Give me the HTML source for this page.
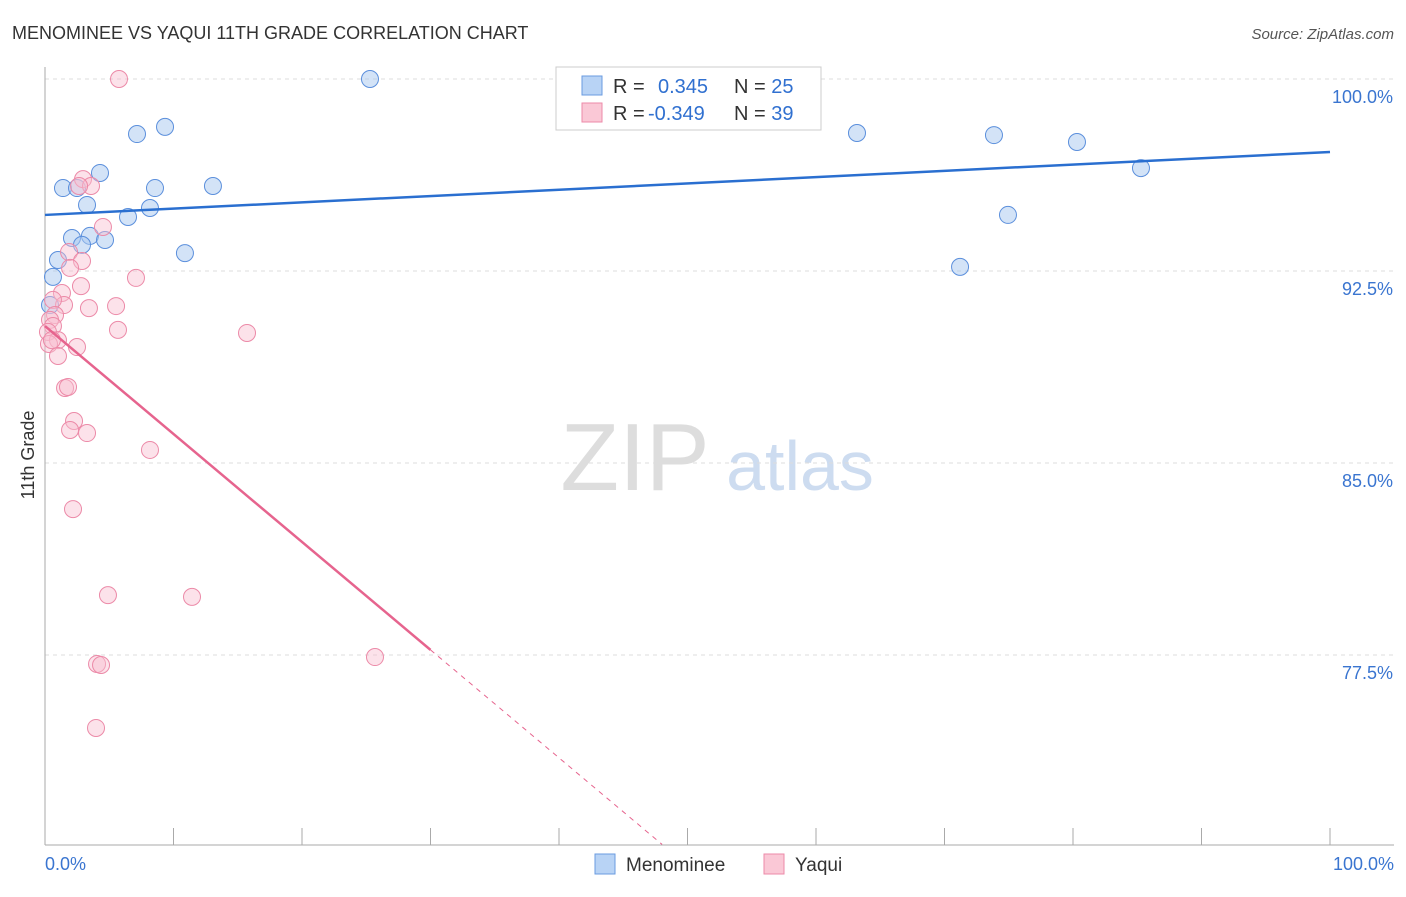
<!DOCTYPE html>
<html><head><meta charset="utf-8"><style>
body{margin:0;background:#fff;font-family:"Liberation Sans",sans-serif;}
svg text{font-family:"Liberation Sans",sans-serif;}
</style></head><body>
<svg id="c" width="1406" height="892" viewBox="0 0 1406 892">
<text x="12" y="39" font-size="18" fill="#333">MENOMINEE VS YAQUI 11TH GRADE CORRELATION CHART</text>
<text x="1394" y="39" font-size="15" fill="#555" text-anchor="end" font-style="italic">Source: ZipAtlas.com</text>
<g><text x="635" y="490" font-size="96" fill="#ddd" font-family="Liberation Serif" text-anchor="middle">ZIP</text><text x="800" y="490" font-size="70" fill="#cddcf0" text-anchor="middle">atlas</text></g>
<g id="grid"></g><g id="axes"></g><g id="pts"></g><g id="lines"></g>
<g>
<rect x="556" y="67" width="265" height="63" fill="#fff" stroke="#ccc"/>
<rect x="582" y="76" width="20" height="19" fill="#b8d3f5" stroke="#6a9be0"/>
<rect x="582" y="103" width="20" height="19" fill="#fac8d6" stroke="#ec8aa8"/>
<text x="613" y="93" font-size="20" fill="#333">R = <tspan fill="#3070d0" x="658">0.345</tspan><tspan x="734">N = </tspan><tspan fill="#3070d0">25</tspan></text>
<text x="613" y="120" font-size="20" fill="#333">R = <tspan fill="#3070d0" x="648">-0.349</tspan><tspan x="734">N = </tspan><tspan fill="#3070d0">39</tspan></text>
</g>
<g>
<rect x="595" y="854" width="20" height="20" fill="#b8d3f5" stroke="#6a9be0"/>
<text x="626" y="871" font-size="19" fill="#333">Menominee</text>
<rect x="764" y="854" width="20" height="20" fill="#fac8d6" stroke="#ec8aa8"/>
<text x="795" y="871" font-size="19" fill="#333">Yaqui</text>
</g>
<text transform="translate(34,455) rotate(-90)" font-size="18" fill="#333" text-anchor="middle">11th Grade</text>
</svg>
<script>
const blueX=[25.29,9.34,7.16,4.28,1.40,2.49,8.56,13.07,3.27,8.17,6.46,2.10,3.50,4.67,2.88,1.01,10.89,0.62,0.39,63.19,73.85,80.31,85.29,74.94,71.21];
const blueY=[100.0,98.13,97.85,96.33,95.74,95.74,95.74,95.82,95.08,94.96,94.61,93.79,93.87,93.71,93.52,92.93,93.20,92.27,91.17,97.89,97.81,97.54,96.52,94.69,92.66];
const pinkX=[5.76,2.96,3.58,2.65,4.51,1.87,2.88,1.95,7.08,2.80,1.32,1.48,3.42,5.53,0.62,0.78,0.39,0.62,5.68,15.72,0.23,1.01,0.31,2.49,1.01,1.56,1.79,2.26,1.95,3.27,8.17,2.18,4.90,11.44,25.68,4.05,4.36,3.97,0.54];
const pinkY=[100.0,96.09,95.82,95.82,94.22,93.24,92.89,92.62,92.23,91.91,91.64,91.17,91.05,91.13,91.37,90.78,90.59,90.35,90.20,90.08,90.12,89.80,89.65,89.53,89.18,87.93,87.97,86.64,86.29,86.17,85.51,83.20,79.84,79.77,77.42,77.15,77.11,74.65,89.80];
const yTicks=[100,92.5,85,77.5];
const yTickLabels=["100.0%","92.5%","85.0%","77.5%"];
const blueTrend=[94.69,97.15];
const pinkTrend=[90.35,77.70];
const X=v=>45+v*12.85, Y=v=>79+(100-v)*25.6;
const NS="http://www.w3.org/2000/svg";
function mk(p,t,a){const e=document.createElementNS(NS,t);for(const k in a)e.setAttribute(k,a[k]);document.getElementById(p).appendChild(e);return e;}
yTicks.forEach((t,i)=>{
 const g=mk('grid','line',{x1:45,x2:1394,y1:Y(t),y2:Y(t),stroke:'#ddd','stroke-dasharray':'4,4'});
 
 
 const l=mk('grid','text',{x:1393,y:Y(t)+24,'font-size':18,fill:'#3a75d0','text-anchor':'end'});
 l.textContent=yTickLabels[i];
 
 
});
const ax=mk('axes','line',{x1:45,x2:45,y1:67,y2:845,stroke:'#aaa'});


const bx=mk('axes','line',{x1:45,x2:1394,y1:845,y2:845,stroke:'#aaa'});


for(let i=0;i<=10;i++){const t=mk('axes','line',{x1:X(i*10),x2:X(i*10),y1:828,y2:845,stroke:'#aaa'});
 
 }
[[0,"0.0%","start",45],[100,"100.0%","end",1394]].forEach(a=>{const t=mk('axes','text',{x:a[3],y:870,'font-size':18,fill:'#3a75d0','text-anchor':a[2]});t.textContent=a[1];
 
 });
blueX.forEach((x,i)=>{const c=mk('pts','circle',{cx:X(x),cy:Y(blueY[i]),r:8.5,fill:'rgba(168,200,240,0.5)',stroke:'#5b8fdc','stroke-width':1});
 
 });
pinkX.forEach((x,i)=>{const c=mk('pts','circle',{cx:X(x),cy:Y(pinkY[i]),r:8.5,fill:'rgba(248,190,208,0.45)',stroke:'#ec8aa8','stroke-width':1});
 
 });
const bl=mk('lines','line',{x1:X(0),y1:Y(blueTrend[0]),x2:X(100),y2:Y(blueTrend[1]),stroke:'#2a6fd0','stroke-width':2.5});


const sl=(pinkTrend[1]-pinkTrend[0])/30;
const pl=mk('lines','line',{x1:X(0),y1:Y(pinkTrend[0]),x2:X(30),y2:Y(pinkTrend[1]),stroke:'#e6648e','stroke-width':2.5});


const xe=(70.1-pinkTrend[0])/sl;
const pd=mk('lines','line',{x1:X(30),y1:Y(pinkTrend[1]),x2:X(xe),y2:Y(pinkTrend[0]+sl*xe),stroke:'#e6648e','stroke-width':1,'stroke-dasharray':'5,5'});


</script>
</body></html>
